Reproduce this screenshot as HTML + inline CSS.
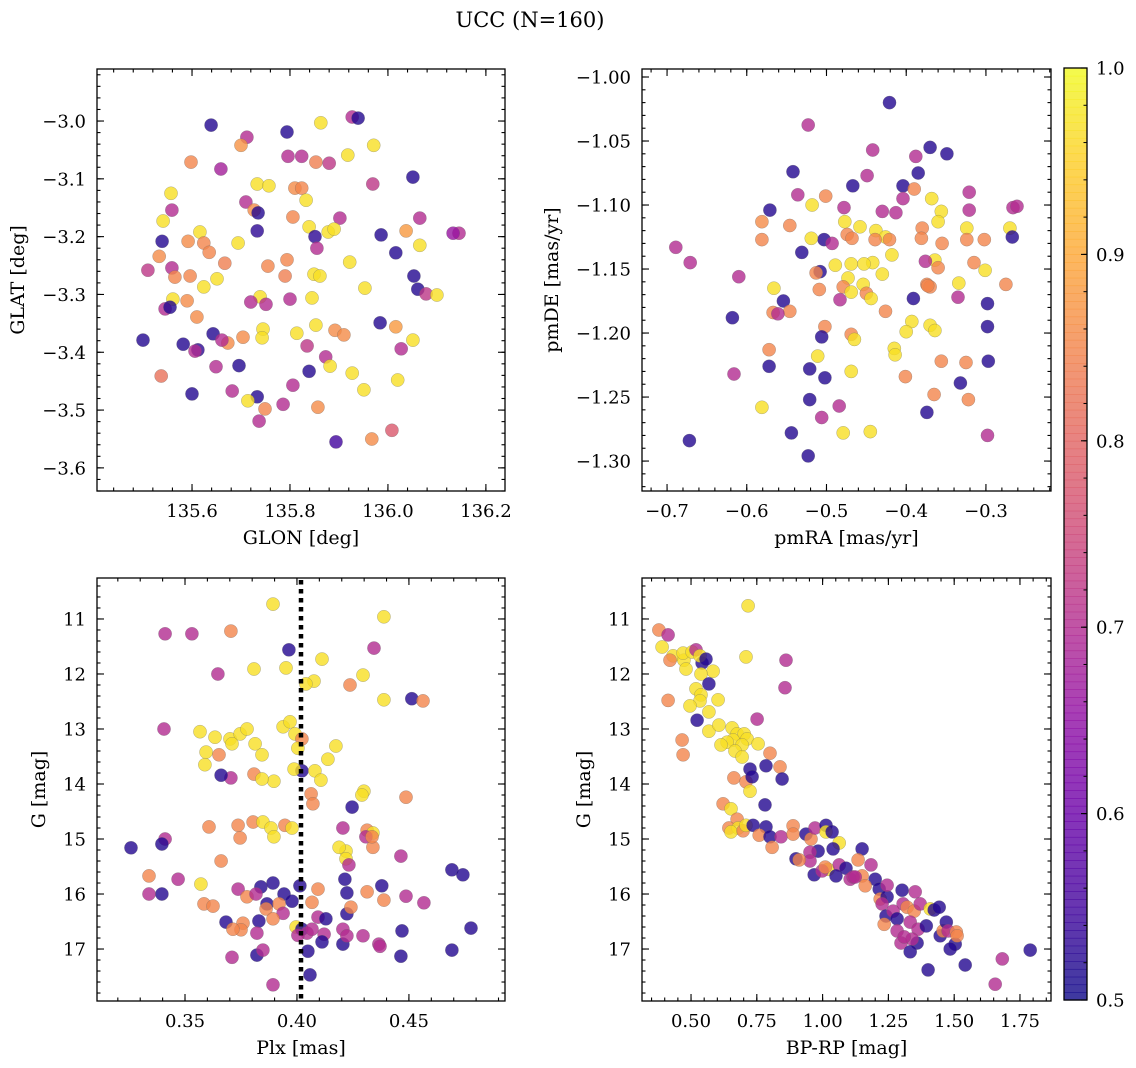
<!DOCTYPE html>
<html><head><meta charset="utf-8">
<style>
html,body{margin:0;padding:0;background:#fff;}
svg{display:block;font-family:"DejaVu Serif","Liberation Serif",serif;}
</style></head>
<body>
<svg id="fig" width="1136" height="1068" viewBox="0 0 1136 1068" xmlns="http://www.w3.org/2000/svg">
<text x="530" y="27" font-size="21" text-anchor="middle">UCC (N=160)</text>
</svg>
<script>
// ---- Panel 1: GLON / GLAT ----
const glon1 = [135.927,135.939,135.863,135.639,135.712,135.700,135.971,135.794,135.918,135.796,135.824,135.853,135.598,135.659,135.880,136.051,135.733,135.757,135.969,135.810,135.824,135.710,135.727,135.735,135.806,135.833,135.557,135.559,136.065,135.541,135.902,135.539,135.616,135.624,135.733,135.694,135.839,135.851,135.878,135.890,135.986,136.037,136.065,136.145,136.133,135.794,135.855,135.592,135.559,135.667,135.596,135.635,135.755,135.922,136.016,136.053,135.510,135.533,135.565,135.651,135.849,135.861,135.790,135.624,135.561,135.590,135.739,135.800,135.720,135.751,135.845,135.953,136.061,136.078,136.100,135.545,135.555,135.610,135.853,135.892,135.814,135.745,135.743,135.704,135.673,135.910,136.016,135.643,135.661,135.984,136.051,136.027,135.612,135.582,135.606,135.500,135.835,135.873,135.882,135.649,135.696,135.839,135.927,135.537,135.806,135.951,136.020,135.600,135.682,135.733,135.714,135.786,135.749,135.857,135.737,136.008,135.967,135.894];
const glat1 = [-2.993,-2.995,-3.003,-3.007,-3.028,-3.042,-3.042,-3.019,-3.059,-3.061,-3.061,-3.071,-3.071,-3.083,-3.073,-3.097,-3.109,-3.112,-3.109,-3.116,-3.116,-3.140,-3.154,-3.159,-3.166,-3.137,-3.125,-3.154,-3.168,-3.173,-3.168,-3.208,-3.192,-3.211,-3.190,-3.211,-3.183,-3.200,-3.192,-3.187,-3.197,-3.190,-3.215,-3.194,-3.194,-3.240,-3.220,-3.208,-3.254,-3.246,-3.268,-3.227,-3.251,-3.244,-3.228,-3.268,-3.258,-3.234,-3.270,-3.273,-3.265,-3.268,-3.268,-3.287,-3.308,-3.311,-3.304,-3.308,-3.313,-3.317,-3.306,-3.289,-3.291,-3.299,-3.301,-3.325,-3.322,-3.339,-3.353,-3.362,-3.367,-3.360,-3.375,-3.374,-3.384,-3.370,-3.356,-3.368,-3.379,-3.349,-3.379,-3.394,-3.396,-3.386,-3.398,-3.379,-3.389,-3.408,-3.424,-3.425,-3.423,-3.433,-3.436,-3.441,-3.457,-3.465,-3.448,-3.472,-3.467,-3.477,-3.484,-3.490,-3.498,-3.495,-3.519,-3.535,-3.550,-3.555];
const prob1 = [0.7,0.52,0.97,0.52,0.7,0.87,0.97,0.52,0.97,0.7,0.7,0.84,0.85,0.68,0.72,0.52,0.97,0.97,0.72,0.86,0.85,0.7,0.86,0.52,0.85,0.97,0.97,0.7,0.7,0.97,0.7,0.52,0.97,0.85,0.53,0.97,0.97,0.53,0.97,0.97,0.52,0.88,0.97,0.7,0.66,0.85,0.7,0.86,0.7,0.84,0.85,0.85,0.85,0.97,0.52,0.52,0.72,0.86,0.85,0.97,0.97,0.97,0.84,0.97,0.97,0.86,0.97,0.7,0.7,0.7,0.97,0.97,0.52,0.72,0.97,0.7,0.52,0.86,0.97,0.86,0.97,0.97,0.97,0.86,0.86,0.86,0.88,0.52,0.7,0.52,0.97,0.7,0.53,0.52,0.7,0.52,0.72,0.7,0.97,0.7,0.52,0.52,0.97,0.82,0.7,0.97,0.97,0.52,0.7,0.52,0.97,0.7,0.85,0.86,0.7,0.78,0.86,0.55];

// ---- Panel 2: pmRA / pmDE ----
const pmra2 = [-0.421,-0.523,-0.442,-0.370,-0.349,-0.388,-0.385,-0.542,-0.467,-0.404,-0.390,-0.449,-0.501,-0.536,-0.404,-0.368,-0.321,-0.518,-0.571,-0.478,-0.413,-0.356,-0.321,-0.266,-0.261,-0.430,-0.477,-0.581,-0.546,-0.380,-0.503,-0.474,-0.458,-0.438,-0.426,-0.360,-0.324,-0.270,-0.267,-0.381,-0.468,-0.519,-0.493,-0.689,-0.671,-0.581,-0.531,-0.439,-0.421,-0.355,-0.324,-0.302,-0.364,-0.376,-0.442,-0.453,-0.418,-0.469,-0.489,-0.508,-0.473,-0.513,-0.610,-0.360,-0.315,-0.301,-0.430,-0.454,-0.374,-0.370,-0.334,-0.275,-0.566,-0.509,-0.479,-0.450,-0.373,-0.469,-0.444,-0.483,-0.554,-0.391,-0.298,-0.335,-0.546,-0.567,-0.561,-0.426,-0.618,-0.370,-0.393,-0.502,-0.298,-0.364,-0.400,-0.506,-0.469,-0.465,-0.415,-0.511,-0.572,-0.414,-0.325,-0.297,-0.356,-0.572,-0.521,-0.616,-0.469,-0.502,-0.401,-0.332,-0.365,-0.374,-0.322,-0.521,-0.484,-0.581,-0.506,-0.544,-0.445,-0.479,-0.298,-0.672,-0.523];
const pmde2 = [-1.020,-1.0375,-1.057,-1.055,-1.060,-1.062,-1.075,-1.074,-1.085,-1.085,-1.0875,-1.077,-1.093,-1.092,-1.095,-1.095,-1.090,-1.100,-1.104,-1.102,-1.106,-1.105,-1.104,-1.102,-1.101,-1.105,-1.113,-1.113,-1.116,-1.118,-1.127,-1.123,-1.117,-1.120,-1.125,-1.113,-1.118,-1.118,-1.125,-1.126,-1.126,-1.126,-1.130,-1.133,-1.145,-1.127,-1.137,-1.127,-1.127,-1.130,-1.127,-1.127,-1.143,-1.144,-1.145,-1.146,-1.139,-1.146,-1.147,-1.152,-1.157,-1.153,-1.156,-1.149,-1.145,-1.151,-1.154,-1.162,-1.162,-1.164,-1.161,-1.162,-1.165,-1.166,-1.164,-1.169,-1.163,-1.168,-1.173,-1.174,-1.175,-1.173,-1.177,-1.172,-1.183,-1.184,-1.185,-1.183,-1.188,-1.194,-1.191,-1.195,-1.195,-1.198,-1.199,-1.203,-1.201,-1.205,-1.212,-1.218,-1.213,-1.217,-1.223,-1.222,-1.222,-1.226,-1.228,-1.232,-1.230,-1.235,-1.234,-1.239,-1.248,-1.262,-1.252,-1.252,-1.257,-1.258,-1.266,-1.278,-1.277,-1.278,-1.280,-1.284,-1.296];
const prob2 = [0.52,0.7,0.7,0.52,0.52,0.7,0.52,0.52,0.52,0.52,0.85,0.7,0.85,0.7,0.7,0.97,0.7,0.97,0.52,0.7,0.7,0.97,0.7,0.7,0.7,0.7,0.97,0.86,0.85,0.85,0.52,0.85,0.97,0.97,0.97,0.97,0.97,0.97,0.52,0.85,0.85,0.97,0.7,0.7,0.7,0.85,0.52,0.85,0.85,0.85,0.85,0.85,0.97,0.7,0.97,0.97,0.97,0.97,0.97,0.52,0.97,0.85,0.7,0.85,0.85,0.97,0.97,0.97,0.85,0.85,0.97,0.85,0.97,0.85,0.85,0.85,0.85,0.97,0.97,0.7,0.52,0.52,0.52,0.7,0.85,0.85,0.7,0.85,0.52,0.97,0.97,0.85,0.52,0.97,0.97,0.52,0.85,0.97,0.97,0.97,0.85,0.97,0.85,0.52,0.85,0.52,0.52,0.7,0.97,0.52,0.85,0.52,0.85,0.52,0.85,0.52,0.7,0.97,0.7,0.52,0.97,0.97,0.7,0.52,0.52];

// ---- Panel 3: Plx / G ----
const plx3 = [0.3893,0.4388,0.3531,0.3705,0.3411,0.3964,0.4344,0.3951,0.3808,0.4112,0.3647,0.4076,0.4040,0.4237,0.4295,0.4388,0.4513,0.4563,0.3406,0.3634,0.3701,0.3746,0.3777,0.3938,0.3969,0.3991,0.4022,0.3710,0.3567,0.3813,0.4004,0.4174,0.3652,0.3594,0.3844,0.4138,0.3589,0.4022,0.4080,0.3705,0.3808,0.3897,0.3987,0.4107,0.3661,0.3844,0.4063,0.4299,0.4290,0.4246,0.4071,0.4487,0.3607,0.3737,0.3804,0.3848,0.3946,0.3978,0.3884,0.4313,0.4339,0.3897,0.4205,0.4308,0.4219,0.4188,0.3411,0.3259,0.3397,0.3746,0.4339,0.4335,0.4219,0.3661,0.4232,0.3469,0.3339,0.3397,0.3571,0.3737,0.3777,0.3839,0.3893,0.4013,0.4094,0.4214,0.4313,0.4379,0.3585,0.3817,0.3866,0.3942,0.3978,0.4067,0.4223,0.4223,0.3862,0.3920,0.3938,0.3893,0.4094,0.4129,0.4241,0.3625,0.3683,0.3339,0.3830,0.3759,0.3750,0.3821,0.3996,0.4022,0.4045,0.4067,0.4121,0.4205,0.4205,0.4223,0.4295,0.4366,0.4112,0.4004,0.3821,0.3714,0.3848,0.4049,0.4058,0.3893,0.3710,0.4464,0.4692,0.4741,0.4487,0.4567,0.4388,0.4469,0.4777,0.4692,0.4464,0.4371];
const g3 = [10.73,10.96,11.27,11.22,11.27,11.56,11.53,11.89,11.91,11.73,12.00,12.13,12.18,12.20,12.02,12.47,12.45,12.49,13.00,13.15,13.18,13.09,13.00,12.96,12.87,13.09,13.18,13.27,13.05,13.27,13.35,13.31,13.47,13.42,13.47,13.55,13.65,13.76,13.76,13.89,13.82,13.95,13.73,13.93,13.84,13.91,14.18,14.13,14.20,14.42,14.36,14.24,14.78,14.75,14.69,14.69,14.75,14.80,14.80,14.84,14.89,14.96,14.80,14.96,15.22,15.15,15.00,15.16,15.09,14.98,15.15,14.96,15.36,15.40,15.47,15.73,15.67,16.00,15.82,15.91,16.05,15.87,15.80,15.85,15.91,15.73,15.96,15.85,16.18,16.00,16.18,16.00,16.13,16.15,15.98,16.36,16.27,16.18,16.35,16.45,16.42,16.45,16.24,16.22,16.51,16.00,16.49,16.53,16.65,16.71,16.60,16.64,16.71,16.64,16.73,16.64,16.91,16.76,16.76,16.91,16.87,16.75,17.11,16.64,17.02,17.04,17.47,17.65,17.15,15.31,15.56,15.65,16.04,16.16,16.11,16.67,16.62,17.02,17.13,16.95];
const prob3 = [0.97,0.97,0.7,0.85,0.7,0.52,0.7,0.97,0.97,0.97,0.7,0.97,0.97,0.85,0.97,0.97,0.52,0.85,0.7,0.97,0.97,0.97,0.97,0.97,0.97,0.97,0.85,0.97,0.97,0.97,0.97,0.97,0.85,0.97,0.97,0.97,0.97,0.52,0.97,0.7,0.85,0.97,0.97,0.97,0.52,0.97,0.85,0.97,0.97,0.52,0.85,0.85,0.85,0.85,0.85,0.97,0.85,0.97,0.97,0.85,0.97,0.97,0.7,0.7,0.97,0.97,0.7,0.52,0.52,0.85,0.85,0.85,0.97,0.85,0.7,0.7,0.85,0.52,0.97,0.7,0.85,0.52,0.52,0.52,0.85,0.52,0.85,0.52,0.85,0.7,0.52,0.52,0.52,0.85,0.52,0.52,0.85,0.85,0.7,0.85,0.7,0.52,0.85,0.85,0.52,0.7,0.52,0.85,0.85,0.7,0.97,0.52,0.7,0.7,0.7,0.7,0.52,0.7,0.7,0.7,0.52,0.7,0.52,0.85,0.7,0.52,0.52,0.7,0.7,0.7,0.52,0.52,0.7,0.7,0.85,0.52,0.52,0.52,0.52,0.7];

// ---- Panel 4: BP-RP / G ----
const bprp4 = [0.378,0.413,0.390,0.432,0.473,0.470,0.504,0.481,0.519,0.542,0.534,0.584,0.557,0.538,0.519,0.568,0.603,0.568,0.538,0.534,0.568,0.523,0.606,0.656,0.675,0.702,0.660,0.637,0.614,0.713,0.751,0.694,0.667,0.694,0.755,0.717,0.420,0.413,0.466,0.470,0.496,0.709,0.861,0.800,0.785,0.724,0.838,0.663,0.709,0.732,0.724,0.622,0.652,0.675,0.644,0.679,0.652,0.698,0.709,0.736,0.785,0.759,0.800,0.808,0.842,0.888,0.888,0.937,0.956,0.971,1.013,1.013,1.036,1.063,1.040,0.983,0.952,0.899,0.952,0.911,1.021,1.063,1.089,1.150,1.105,1.150,0.968,0.998,1.010,1.051,1.116,1.184,1.200,1.162,1.215,1.219,1.245,1.226,1.241,1.302,1.306,1.352,1.321,1.348,1.371,1.409,1.424,1.443,1.245,1.135,1.124,1.268,1.283,1.234,1.283,1.333,1.363,1.394,1.359,1.340,1.447,1.458,1.470,1.477,1.504,1.485,1.508,1.511,1.298,1.310,1.333,1.401,1.542,1.683,1.789,1.656,0.846,0.781,0.857];
const g4 = [11.20,11.29,11.51,11.67,11.75,11.62,11.60,11.91,11.56,11.80,11.67,11.95,11.73,12.00,12.27,12.18,12.47,12.69,12.38,12.49,13.04,12.84,12.93,12.98,13.09,13.09,13.20,13.24,13.29,13.18,12.82,13.29,13.40,13.51,13.27,10.76,11.75,12.48,13.20,13.47,12.58,11.69,11.75,13.44,13.67,13.73,13.69,13.89,13.96,13.87,14.13,14.36,14.45,14.64,14.80,14.80,14.87,14.85,14.75,14.75,14.78,14.93,14.96,15.15,14.96,14.76,14.91,14.91,15.00,14.80,14.75,14.87,14.87,15.07,15.18,15.22,15.24,15.36,15.40,15.38,15.55,15.47,15.53,15.18,15.73,15.67,15.65,15.58,15.51,15.67,15.69,15.47,15.73,15.85,15.91,16.09,16.05,16.18,16.40,15.93,16.18,15.96,16.24,16.31,16.18,16.27,16.29,16.24,15.84,15.38,15.69,16.31,16.45,16.55,16.67,16.51,16.64,16.58,16.89,16.82,16.76,16.67,16.51,16.67,16.91,17.00,16.69,16.76,16.89,16.78,17.05,17.38,17.29,17.18,17.02,17.64,13.91,14.38,12.25];
const prob4 = [0.85,0.7,0.97,0.97,0.97,0.97,0.97,0.97,0.7,0.52,0.97,0.97,0.52,0.97,0.97,0.52,0.97,0.97,0.97,0.97,0.97,0.52,0.97,0.97,0.97,0.97,0.97,0.97,0.97,0.97,0.7,0.97,0.97,0.97,0.97,0.97,0.85,0.85,0.85,0.85,0.97,0.97,0.7,0.85,0.52,0.52,0.85,0.85,0.85,0.52,0.97,0.85,0.97,0.85,0.85,0.97,0.97,0.85,0.97,0.52,0.52,0.85,0.52,0.85,0.7,0.85,0.85,0.52,0.85,0.7,0.52,0.97,0.52,0.97,0.52,0.52,0.7,0.52,0.7,0.85,0.97,0.7,0.52,0.52,0.7,0.85,0.52,0.7,0.85,0.52,0.7,0.7,0.52,0.85,0.52,0.85,0.52,0.7,0.52,0.52,0.7,0.7,0.85,0.85,0.7,0.97,0.52,0.52,0.7,0.85,0.7,0.7,0.52,0.85,0.7,0.7,0.7,0.52,0.52,0.7,0.52,0.85,0.52,0.7,0.52,0.52,0.85,0.85,0.7,0.7,0.52,0.52,0.52,0.7,0.52,0.7,0.52,0.52,0.7];

const plxMean = 0.4018;
const cbTicks = [0.5,0.6,0.7,0.8,0.9,1.0];

const NS = 'http://www.w3.org/2000/svg';
const svg = document.getElementById('fig');
function mk(tag, attrs, parent){ const e=document.createElementNS(NS,tag); for(const k in attrs) e.setAttribute(k,attrs[k]); (parent||svg).appendChild(e); return e; }

const plasmaStops = ['#0d0887','#41049d','#6a00a8','#8f0da4','#b12a90','#cc4778','#e16462','#f2844b','#fca636','#fcce25','#f0f921'];
function hex(h){return [parseInt(h.slice(1,3),16),parseInt(h.slice(3,5),16),parseInt(h.slice(5,7),16)];}
function plasma(t){ t=Math.max(0,Math.min(1,t)); const f=t*10, i=Math.min(9,Math.floor(f)), r=f-i; const a=hex(plasmaStops[i]), b=hex(plasmaStops[i+1]);
  return 'rgb('+a.map((v,k)=>Math.round(v+(b[k]-v)*r)).join(',')+')'; }
function pcol(p){ return plasma((p-0.5)/0.5); }

function fmt(v,d){ let s=Math.abs(v).toFixed(d); return (v<-1e-9?'\u2212':'')+s; }

const TICKFS = 18, LABFS = 19;

function panel(c){
  const g = mk('g',{});
  
  
  const sx = v => c.x0 + (v-c.xa)/(c.xb-c.xa)*(c.x1-c.x0);
  const sy = v => c.y0 + (v-c.ya)/(c.yb-c.ya)*(c.y1-c.y0);
  const pg = mk('g',{},g);
  
  
  for(let i=0;i<c.xs.length;i++){
    const cx=sx(c.xs[i]), cy=sy(c.ys[i]);
    if(cx<c.x0||cx>c.x1||cy<c.y0||cy>c.y1) continue;
    const pt = mk('circle',{cx:cx.toFixed(1),cy:cy.toFixed(1),r:6.6,fill:pcol(c.ps[i]),'fill-opacity':0.8,stroke:'#666','stroke-opacity':0.5,'stroke-width':0.5},pg);
    
    
  }
  if(c.vline!==undefined){
    const vl = mk('line',{x1:sx(c.vline),x2:sx(c.vline),y1:c.y0+2,y2:c.y1,stroke:'#000','stroke-width':4.5,'stroke-dasharray':'4.5,4.5'},g);
    
    
  }
  const tg = mk('g',{stroke:'#000','stroke-width':1.1},g);
  function ticksAxis(lo,hi,step,isX,len){
    const n0=Math.ceil(Math.min(lo,hi)/step-1e-6), n1=Math.floor(Math.max(lo,hi)/step+1e-6);
    for(let n=n0;n<=n1;n++){ const v=n*step;
      if(isX){ const x=sx(v); mk('line',{x1:x,x2:x,y1:c.y1,y2:c.y1-len},tg); mk('line',{x1:x,x2:x,y1:c.y0,y2:c.y0+len},tg); }
      else { const y=sy(v); mk('line',{x1:c.x0,x2:c.x0+len,y1:y,y2:y},tg); mk('line',{x1:c.x1,x2:c.x1-len,y1:y,y2:y},tg); }
    }
  }
  ticksAxis(c.xa,c.xb,c.xminor,true,3.5);
  ticksAxis(c.ya,c.yb,c.yminor,false,3.5);
  c.xticks.forEach(v=>{ const x=sx(v); mk('line',{x1:x,x2:x,y1:c.y1,y2:c.y1-7},tg); mk('line',{x1:x,x2:x,y1:c.y0,y2:c.y0+7},tg);
    const t=mk('text',{x:x,y:c.y1+26,'font-size':TICKFS,'text-anchor':'middle'},g); t.textContent=fmt(v,c.xd);
      });
  c.yticks.forEach(v=>{ const y=sy(v); mk('line',{x1:c.x0,x2:c.x0+7,y1:y,y2:y},tg); mk('line',{x1:c.x1,x2:c.x1-7,y1:y,y2:y},tg);
    const t=mk('text',{x:c.x0-11,y:y+6.5,'font-size':TICKFS,'text-anchor':'end'},g); t.textContent=fmt(v,c.yd);
      });
  const fr = mk('rect',{x:c.x0,y:c.y0,width:c.x1-c.x0,height:c.y1-c.y0,fill:'none',stroke:'#000','stroke-width':1.3},g);
  
  
  const xl = mk('text',{x:(c.x0+c.x1)/2,y:c.y1+53,'font-size':LABFS,'text-anchor':'middle'},g); xl.textContent=c.xlabel;
   
  const yl = mk('text',{x:c.ylx,y:(c.y0+c.y1)/2,'font-size':LABFS,'text-anchor':'middle',transform:'rotate(-90 '+c.ylx+' '+((c.y0+c.y1)/2)+')'},g); yl.textContent=c.ylabel;
   
}

panel({name:'glon-glat-panel',x0:97,x1:505,y0:69,y1:491,xa:135.406,xb:136.239,ya:-2.910,yb:-3.640,
  xs:glon1,ys:glat1,ps:prob1,xticks:[135.6,135.8,136.0,136.2],xd:1,xminor:0.04,yticks:[-3.6,-3.5,-3.4,-3.3,-3.2,-3.1,-3.0],yd:1,yminor:0.02,
  xlabel:'GLON [deg]',ylabel:'GLAT [deg]',ylx:24});
panel({name:'pm-panel',x0:642,x1:1051,y0:69,y1:491,xa:-0.7314,xb:-0.2184,ya:-0.99375,yb:-1.3234,
  xs:pmra2,ys:pmde2,ps:prob2,xticks:[-0.7,-0.6,-0.5,-0.4,-0.3],xd:1,xminor:0.02,yticks:[-1.30,-1.25,-1.20,-1.15,-1.10,-1.05,-1.00],yd:2,yminor:0.01,
  xlabel:'pmRA [mas/yr]',ylabel:'pmDE [mas/yr]',ylx:558});
panel({name:'plx-g-panel',x0:97,x1:505,y0:578,y1:1001,xa:0.3107,xb:0.4929,ya:10.255,yb:17.945,
  xs:plx3,ys:g3,ps:prob3,xticks:[0.35,0.40,0.45],xd:2,xminor:0.01,yticks:[11,12,13,14,15,16,17],yd:0,yminor:0.2,
  xlabel:'Plx [mas]',ylabel:'G [mag]',ylx:45,vline:plxMean});
panel({name:'cmd-panel',x0:642,x1:1051,y0:578,y1:1001,xa:0.3137,xb:1.8679,ya:10.255,yb:17.945,
  xs:bprp4,ys:g4,ps:prob4,xticks:[0.50,0.75,1.00,1.25,1.50,1.75],xd:2,xminor:0.05,yticks:[11,12,13,14,15,16,17],yd:0,yminor:0.2,
  xlabel:'BP-RP [mag]',ylabel:'G [mag]',ylx:590});

// ---- Colorbar ----
(function(){
  const x0=1064,x1=1087,y0=68,y1=1000;
  const cg = mk('g',{});
  
  
  const N=120;
  for(let i=0;i<N;i++){
    const t0=i/N; const y=y1-(i+1)*(y1-y0)/N;
    mk('rect',{x:x0,y:y.toFixed(2),width:x1-x0,height:((y1-y0)/N+0.6).toFixed(2),fill:plasma(t0+0.5/N),'fill-opacity':0.8},cg);
  }
  const sy = v => y1-(v-0.5)/0.5*(y1-y0);
  for(let v=0.5;v<=1.0001;v+=0.02){ mk('line',{x1:x1,x2:x1-3.5,y1:sy(v),y2:sy(v),stroke:'#000','stroke-width':1},cg); }
  cbTicks.forEach(v=>{ mk('line',{x1:x1,x2:x1-6,y1:sy(v),y2:sy(v),stroke:'#000','stroke-width':1.1},cg);
    const t=mk('text',{x:x1+9,y:sy(v)+6.5,'font-size':TICKFS},cg); t.textContent=v.toFixed(1);
      });
  mk('rect',{x:x0,y:y0,width:x1-x0,height:y1-y0,fill:'none',stroke:'#000','stroke-width':1.3},cg);
})();
</script>
</body></html>
